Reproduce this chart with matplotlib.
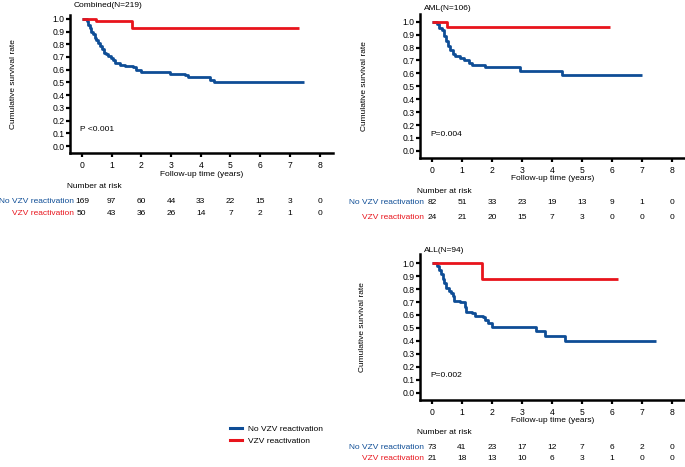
import matplotlib
matplotlib.use("Agg")
import matplotlib.pyplot as plt
import numpy as np

plt.rcParams['font.family'] = ['Liberation Sans', 'DejaVu Sans']
plt.rcParams['font.size'] = 6

BLUE = '#0e4d96'
RED = '#e8141c'

# step curves: (time, survival) after each event, last point = end of follow-up
comb_no_t = [0, 0.16, 0.22, 0.27, 0.32, 0.38, 0.43, 0.48, 0.54, 0.60, 0.66, 0.74, 0.80, 0.88,
             0.99, 1.05, 1.10, 1.27, 1.44, 1.72, 1.83, 2.0, 2.95, 3.46, 3.57, 4.30, 4.44, 7.47]
comb_no_s = [1.0, 0.98, 0.95, 0.93, 0.90, 0.88, 0.85, 0.83, 0.81, 0.79, 0.765, 0.735, 0.72, 0.705,
             0.69, 0.675, 0.655, 0.64, 0.626, 0.62, 0.595, 0.582, 0.569, 0.556, 0.543, 0.52, 0.503, 0.503]
comb_yes_t = [0, 0.48, 1.68, 7.30]
comb_yes_s = [1.0, 0.982, 0.929, 0.929]

aml_no_t = [0, 0.17, 0.22, 0.33, 0.41, 0.47, 0.52, 0.61, 0.69, 0.78, 0.95, 1.06, 1.22, 1.33,
            1.78, 2.95, 4.35, 7.03]
aml_no_s = [1.0, 0.98, 0.954, 0.933, 0.889, 0.85, 0.81, 0.785, 0.75, 0.733, 0.72, 0.70, 0.68, 0.665,
            0.648, 0.622, 0.585, 0.585]
aml_yes_t = [0, 0.50, 5.96]
aml_yes_s = [1.0, 0.958, 0.958]

all_no_t = [0, 0.17, 0.22, 0.30, 0.36, 0.41, 0.47, 0.56, 0.63, 0.70, 0.75, 0.95, 1.11, 1.15, 1.33,
            1.44, 1.72, 1.78, 1.86, 2.0, 3.48, 3.78, 4.45, 7.47]
all_no_s = [1.0, 0.98, 0.949, 0.916, 0.879, 0.846, 0.807, 0.786, 0.769, 0.743, 0.709, 0.699, 0.665,
            0.626, 0.614, 0.593, 0.585, 0.562, 0.537, 0.51, 0.477, 0.441, 0.397, 0.397]
all_yes_t = [0, 1.67, 6.20]
all_yes_s = [1.0, 0.877, 0.877]

risk_times = [0, 1, 2, 3, 4, 5, 6, 7, 8]
comb_risk_no = [169, 97, 60, 44, 33, 22, 15, 3, 0]
comb_risk_yes = [50, 43, 36, 26, 14, 7, 2, 1, 0]
aml_risk_no = [82, 51, 33, 23, 19, 13, 9, 1, 0]
aml_risk_yes = [24, 21, 20, 15, 7, 3, 0, 0, 0]
all_risk_no = [73, 41, 23, 17, 12, 7, 6, 2, 0]
all_risk_yes = [21, 18, 13, 10, 6, 3, 1, 0, 0]

W, H = 685.0, 467.0


def make_ax(fig, left, right, top, bottom):
    return fig.add_axes([left / W, 1 - bottom / H, (right - left) / W, (bottom - top) / H])


def km_panel(ax, title, no_t, no_s, yes_t, yes_s, risk_no, risk_yes, ptext, ymax,
             title_y, ylab_x, xlab_y, nar_y, row1_y, row2_y):
    ax.plot(no_t, no_s, drawstyle='steps-post', color=BLUE, lw=2, solid_capstyle='butt')
    ax.plot(yes_t, yes_s, drawstyle='steps-post', color=RED, lw=2, solid_capstyle='butt')
    ax.set_xlim(-0.4, 8.45)
    ax.set_ylim(-0.055, ymax)
    ax.set_xticks(range(0, 9))
    ax.set_yticks(np.arange(0, 1.01, 0.1))
    ax.set_yticklabels(['%.1f' % v for v in np.arange(0, 1.01, 0.1)])
    for s in ['top', 'right']:
        ax.spines[s].set_visible(False)
    for s in ['left', 'bottom']:
        ax.spines[s].set_linewidth(1.8)
    ax.tick_params(axis='both', width=1.6, length=3, labelsize=6.2)
    ax.tick_params(axis='y', pad=1)
    ax.tick_params(axis='x', pad=2.5)
    ax.set_ylabel('Cumulative survival rate')
    ax.yaxis.set_label_coords(ylab_x, 0.5)
    ax.text(0.5, xlab_y, 'Follow-up time (years)', transform=ax.transAxes,
            ha='center', va='center')
    ax.text(0.015, title_y, title, transform=ax.transAxes, ha='left', va='center')
    ax.text(-0.05, 0.13, ptext, ha='left', va='center')
    tr = ax.get_xaxis_transform()
    ax.text(-0.5, nar_y, 'Number at risk', transform=tr, ha='left', va='center')
    ax.text(-0.25, row1_y, 'No VZV reactivation', transform=tr, ha='right', va='center', color=BLUE)
    ax.text(-0.25, row2_y, 'VZV reactivation', transform=tr, ha='right', va='center', color=RED)
    for t, a, b in zip(risk_times, risk_no, risk_yes):
        ax.text(t, row1_y, str(a), transform=tr, ha='center', va='center')
        ax.text(t, row2_y, str(b), transform=tr, ha='center', va='center')


fig = plt.figure(figsize=(6.85, 4.67), dpi=100)

ax1 = make_ax(fig, 70, 333, 15, 153)
km_panel(ax1, 'Combined(N=219)', comb_no_t, comb_no_s, comb_yes_t, comb_yes_s,
         comb_risk_no, comb_risk_yes, 'P <0.001', 1.03,
         1.07, -0.2, -0.158, -0.242, -0.348, -0.442)

ax2 = make_ax(fig, 420, 685, 14, 158)
km_panel(ax2, 'AML(N=106)', aml_no_t, aml_no_s, aml_yes_t, aml_yes_s,
         aml_risk_no, aml_risk_yes, 'P=0.004', 1.06,
         1.035, -0.196, -0.145, -0.232, -0.3125, -0.41)

ax3 = make_ax(fig, 420, 685, 254, 400)
km_panel(ax3, 'ALL(N=94)', all_no_t, all_no_s, all_yes_t, all_yes_s,
         all_risk_no, all_risk_yes, 'P=0.002', 1.07,
         1.027, -0.204, -0.143, -0.222, -0.322, -0.404)

handles = [plt.Line2D([], [], color=BLUE, lw=2.2), plt.Line2D([], [], color=RED, lw=2.2)]
fig.legend(handles, ['No VZV reactivation', 'VZV reactivation'], loc='upper left',
           bbox_to_anchor=(226 / W, 1 - 421 / H), frameon=False, fontsize=6,
           handlelength=1.4, handletextpad=0.7, labelspacing=0.5, borderpad=0)

fig.savefig('out.png', dpi=100)
